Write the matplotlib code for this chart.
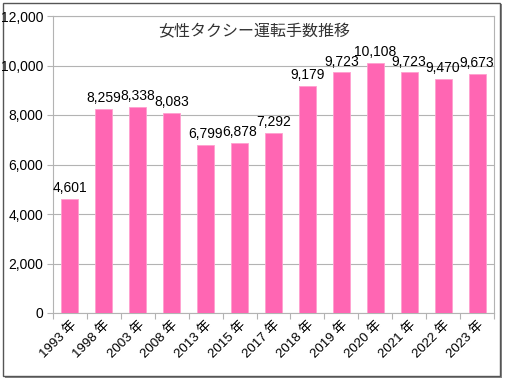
import matplotlib
matplotlib.use("Agg")
import matplotlib.pyplot as plt
from matplotlib.patches import Rectangle
from matplotlib.ticker import FuncFormatter, MultipleLocator

years = ["1993", "1998", "2003", "2008", "2013", "2015", "2017",
         "2018", "2019", "2020", "2021", "2022", "2023"]
values = [4601, 8259, 8338, 8083, 6799, 6878, 7292,
          9179, 9723, 10108, 9723, 9470, 9673]
title = "女性タクシー運転手数推移"

plt.rcParams['font.family'] = ['Liberation Sans', 'Noto Sans CJK JP', 'DejaVu Sans']

fig = plt.figure(figsize=(5.06, 3.8), dpi=100)
W, H = 506, 380
ax = fig.add_axes([53 / W, 1 - 313 / H, (494 - 53) / W, (313 - 16) / H])

x = list(range(len(years)))
ax.bar(x, values, width=0.5, color="#ff66b3", edgecolor="#ff9fcf", linewidth=0.6, zorder=3)
for xi, v in zip(x, values):
    ax.text(xi, v + 150, f"{v:,}", ha="center", va="bottom", fontsize=10, color="black", zorder=4)

ax.set_xlim(-0.5, len(years) - 0.5)
ax.set_ylim(0, 12000)
ax.yaxis.set_major_locator(MultipleLocator(2000))
ax.yaxis.set_major_formatter(FuncFormatter(lambda v, p: f"{int(v):,}"))
ax.grid(axis="y", color="#b3b3b3", linewidth=0.8, zorder=0)

ax.set_xticks(x)
ax.set_xticklabels([f"{y} 年" for y in years], rotation=45, ha="right",
                   rotation_mode="anchor", fontsize=9.5)
ax.tick_params(axis="x", length=0, pad=4)
ax.set_xticks([i - 0.5 for i in range(len(years) + 1)], minor=True)
ax.tick_params(axis="x", which="minor", length=4, color="#b3b3b3", width=0.8)
ax.tick_params(axis="y", length=4, color="#b3b3b3", width=0.8, labelsize=10, pad=3)

for s in ["left", "bottom", "top", "right"]:
    ax.spines[s].set_color("#b3b3b3")
    ax.spines[s].set_linewidth(0.8)

fig.text(254 / W, 1 - 32 / H, title, ha="center", va="center",
         fontsize=11.5, color="#333333", family=['Noto Sans CJK JP', 'DejaVu Sans'])

# outer border with shadow
fig.patches.append(Rectangle((5 / W, 1 - 378 / H), 497 / W, 374 / H, transform=fig.transFigure,
                             facecolor="#888888", edgecolor="none", zorder=-2))
fig.patches.append(Rectangle((3 / W, 1 - 376 / H), 497 / W, 373 / H, transform=fig.transFigure,
                             facecolor="white", edgecolor="#555555", linewidth=1.0, zorder=-1))

fig.savefig("out.png", dpi=100)
